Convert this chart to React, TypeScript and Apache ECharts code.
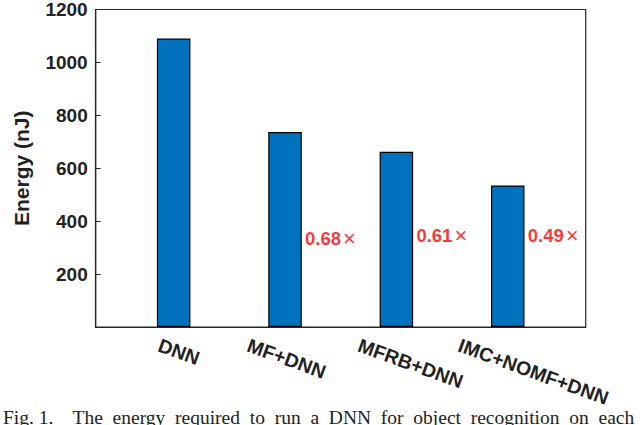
import { useEffect, useRef } from 'react';
import * as echarts from 'echarts';

// bar chart data
const categories = ['DNN', 'MF+DNN', 'MFRB+DNN', 'IMC+NOMF+DNN'];
const energy = [1090, 737, 662, 535];
const ratioTexts = ['0.68', '0.61', '0.49']; // for bars 2..4
const ratioHeights = [335, 345, 345];
const yTickValues = [0, 200, 400, 600, 800, 1000, 1200];

// label anchor shift (axis units) for the rotated category labels
const labelShift = [-0.1, -0.3, -0.305, -0.405];

const caption = 'Fig. 1.    The  energy  required  to  run  a  DNN  for  object  recognition  on  each';

const FONT = '"Liberation Sans", Arial, Helvetica, sans-serif';

export default function App() {
  const ref = useRef<HTMLDivElement>(null);

  useEffect(() => {
    if (!ref.current) return;
    const chart = echarts.init(ref.current, null, { renderer: 'svg' });

    const positions = categories.map((_, i) => i + 1);

    const option: echarts.EChartsOption = {
      animation: false,
      backgroundColor: '#fff',
      grid: {
        left: 95.7,
        right: 54.3,
        top: 7,
        bottom: 98,
        show: true,
        borderColor: '#262626',
        borderWidth: 1.2,
        backgroundColor: 'transparent'
      },
      xAxis: {
        type: 'value',
        min: 0.3,
        max: 4.7,
        axisLine: { show: true, lineStyle: { color: '#262626', width: 1.2 } },
        axisTick: { show: false },
        splitLine: { show: false },
        axisLabel: {
          customValues: positions.map((p, i) => p + labelShift[i]),
          formatter: (v: number) => categories[Math.round(v) - 1] ?? '',
          rotate: -20,
          align: 'left',
          verticalAlign: 'top',
          margin: 8,
          color: '#222',
          fontFamily: FONT,
          fontWeight: 'bold',
          fontSize: 19.5
        }
      },
      yAxis: {
        type: 'value',
        min: 0,
        max: 1200,
        interval: 200,
        name: 'Energy (nJ)',
        nameLocation: 'middle',
        nameGap: 64,
        nameTextStyle: { color: '#222', fontFamily: FONT, fontWeight: 'bold', fontSize: 21 },
        axisLine: { show: true, lineStyle: { color: '#262626', width: 1.2 } },
        axisTick: { show: true, inside: true, length: 5, lineStyle: { color: '#262626' } },
        splitLine: { show: false },
        axisLabel: {
          margin: 8,
          color: '#222',
          fontFamily: FONT,
          fontWeight: 'bold',
          fontSize: 19,
          formatter: (v: number) => (v === 0 || !yTickValues.includes(v) ? '' : String(v))
        }
      },
      series: [
        {
          type: 'bar',
          data: energy.map((e, i) => [positions[i], e]),
          barWidth: 33.5,
          itemStyle: { color: '#0072BD', borderColor: '#000', borderWidth: 1.2 }
        },
        {
          type: 'scatter',
          symbolSize: 0,
          data: ratioTexts.map((t, i) => ({ value: [positions[i + 1], ratioHeights[i]], name: t })),
          label: {
            show: true,
            position: 'right',
            distance: 20,
            formatter: (p: any) => `{n|${p.name}}{x|×}`,
            rich: {
              n: { color: '#ff0000', fontFamily: FONT, fontWeight: 'bold', fontSize: 18.5 },
              x: { color: '#ff0000', fontFamily: FONT, fontWeight: 'normal', fontSize: 22, padding: [0, 0, 0, 2] }
            }
          }
        }
      ],
      graphic: [
        {
          type: 'text',
          left: 3,
          top: 407,
          style: {
            text: caption,
            fill: '#222',
            font: '19.5px "Liberation Serif", "Times New Roman", serif'
          }
        }
      ]
    };

    chart.setOption(option);
    return () => chart.dispose();
  }, []);

  return (
    <div
      ref={ref}
      style={{ position: 'absolute', left: 0, top: 0, width: 640, height: 425, background: '#fff' }}
    />
  );
}
